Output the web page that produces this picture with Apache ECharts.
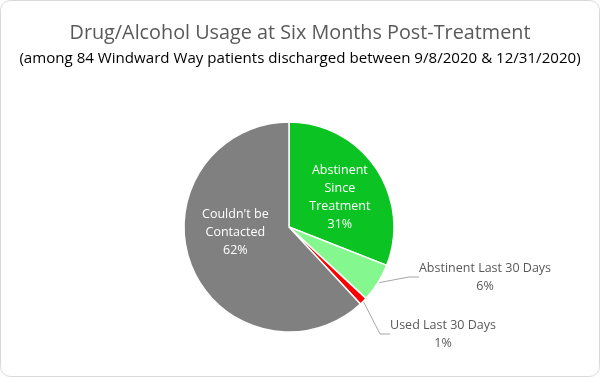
<!DOCTYPE html>
<html>
<head>
<meta charset="utf-8">
<script src="https://cdn.jsdelivr.net/npm/echarts@6/dist/echarts.min.js"></script>
<style>
  html, body { margin: 0; padding: 0; background: #fff; }
  #chart { width: 600px; height: 377px; }
</style>
</head>
<body>
<div id="chart"></div>
<script>
// patient counts out of 84 (read from the percentages)
const categories = ['Abstinent Since Treatment', 'Abstinent Last 30 Days', 'Used Last 30 Days', "Couldn't be Contacted"]
const labelLines = ['Abstinent\nSince\nTreatment', 'Abstinent Last 30 Days', 'Used Last 30 Days', "Couldn't be\nContacted"]
const counts = [26, 5, 1, 52]
const colors = ['#0cc324', '#84f78e', '#ff0000', '#808080']
const insideLabel = [true, false, false, true]

const chart = echarts.init(document.getElementById('chart'))

const data = categories.map((name, i) => ({
  name,
  value: counts[i],
  itemStyle: { color: colors[i] },
  label: insideLabel[i]
    ? { position: 'inside', color: '#ffffff' }
    : { position: 'outside', color: '#595959' },
  labelLine: { show: !insideLabel[i] }
}))

const option = {
  animation: false,
  graphic: [{
    type: 'rect',
    shape: { x: 0.5, y: 0.5, width: 599, height: 376, r: 10 },
    style: { fill: 'none', stroke: '#d9d9d9', lineWidth: 1 },
    silent: true
  }],
  title: {
    text: 'Drug/Alcohol Usage at Six Months Post-Treatment',
    subtext: '(among 84 Windward Way patients discharged between 9/8/2020 & 12/31/2020)',
    left: 'center',
    top: 18,
    itemGap: 8,
    textStyle: { fontFamily: 'Open Sans', fontSize: 19.8, fontWeight: 'normal', color: '#595959' },
    subtextStyle: { fontFamily: 'Open Sans', fontSize: 15.1, color: '#000000' }
  },
  series: [{
    type: 'pie',
    center: [289, 227],
    radius: [0, 105],
    startAngle: 90,
    clockwise: true,
    percentPrecision: 0,
    avoidLabelOverlap: false,
    emphasis: { disabled: true },
    itemStyle: { borderColor: '#ffffff', borderWidth: 1.5 },
    label: {
      fontFamily: 'Open Sans',
      fontSize: 12.5,
      lineHeight: 18,
      align: 'center',
      formatter: p => labelLines[p.dataIndex] + '\n' + p.percent + '%'
    },
    labelLine: {
      lineStyle: { color: '#a6a6a6', width: 1 },
      length: 20,
      length2: 10
    },
    labelLayout: p => {
      if (p.dataIndex === 0) return { dx: 5, dy: 2 }
      if (p.dataIndex === 3) return { dx: -2, dy: -15 }
      if (p.dataIndex === 1) return { x: 485, y: 277, align: 'center', verticalAlign: 'middle' }
      return { x: 443, y: 334, align: 'center', verticalAlign: 'middle' }
    },
    data
  }]
}

chart.setOption(option)
</script>
</body>
</html>
